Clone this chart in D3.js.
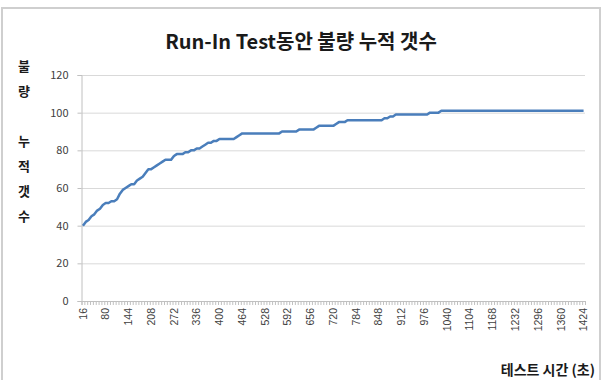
<!DOCTYPE html>
<html><head><meta charset="utf-8">
<script src="https://cdn.jsdelivr.net/npm/d3@7"></script>
<style>
html,body{margin:0;padding:0;background:#fff;}
svg{display:block;font-family:"Malgun Gothic","Noto Sans CJK KR",sans-serif;}
</style></head>
<body>
<svg id="c" width="607" height="380"></svg>
<script>
// ---- data ----
const startTime = 16, stepTime = 8;
const values = [
 40,42,43,45,46,48,49,51,52,52, 53,53,54,57,59,60,61,62,62,64,
 65,66,68,70,70,71,72,73,74,75, 75,75,77,78,78,78,79,79,80,80,
 81,81,82,83,84,84,85,85,86,86, 86,86,86,86,87,88,89,89,89,89,
 89,89,89,89,89,89,89,89,89,89, 90,90,90,90,90,90,91,91,91,91,
 91,91,92,93,93,93,93,93,93,94, 95,95,95,96,96,96,96,96,96,96,
 96,96,96,96,96,96,97,97,98,98, 99,99,99,99,99,99,99,99,99,99,
 99,99,100,100,100,100,101,101,101,101, 101,101,101,101,101,101,101,101,101,101,
 101,101,101,101,101,101,101,101,101,101, 101,101,101,101,101,101,101,101,101,101,
 101,101,101,101,101,101,101,101,101,101, 101,101,101,101,101,101,101
];
const categories = values.map((_, i) => startTime + i * stepTime);
const yTicks = [0, 20, 40, 60, 80, 100, 120];
const labelEvery = 8;
const title = "Run-In Test동안 불량 누적 갯수";
const yTitleChars = ["불", "량", "", "누", "적", "갯", "수"];
const xTitle = "테스트 시간 (초)";

// ---- layout ----
const svg = d3.select("#c");
const L = 81.5, R = 585, T = 75, B = 301;

svg.append("rect").attr("x", 2).attr("y", 8).attr("width", 598).attr("height", 390)
  .attr("fill", "#fff").attr("stroke", "#cfcfcf").attr("stroke-width", 2);

const x = d3.scaleBand().domain(categories).range([L, R]).paddingInner(0).paddingOuter(0);
const xi = d3.scaleLinear().domain([0, categories.length]).range([L, R]);
const y = d3.scaleLinear().domain([0, 120]).range([B, T]);

// gridlines
const grid = svg.append("g").attr("transform", `translate(${L},0)`)
  .call(d3.axisLeft(y).tickValues(yTicks).tickSize(-(R - L)).tickFormat(""));
grid.select(".domain").remove();
grid.selectAll("line").attr("stroke", "#d9d9d9").attr("stroke-width", 1);

// y axis
const ya = svg.append("g").attr("transform", `translate(${L},0)`)
  .call(d3.axisLeft(y).tickValues(yTicks).tickSize(4).tickPadding(9));
ya.select(".domain").attr("stroke", "#c0c0c0");
ya.selectAll("line").attr("stroke", "#c0c0c0");
ya.selectAll("text").attr("font-size", "11px").attr("fill", "#404040")
  .attr("font-family", "Malgun Gothic, Noto Sans CJK KR, sans-serif");

// x tick marks (between categories)
const xt = svg.append("g").attr("transform", `translate(0,${B})`)
  .call(d3.axisBottom(xi).tickValues(d3.range(0, categories.length + 1)).tickSize(4).tickFormat(""));
xt.select(".domain").attr("stroke", "#c0c0c0");
xt.selectAll("line").attr("stroke", "#c0c0c0");

// x labels
const xl = svg.append("g").attr("transform", `translate(0,${B})`)
  .call(d3.axisBottom(x).tickValues(categories.filter((d, i) => i % labelEvery === 0)).tickSize(0));
xl.select(".domain").remove();
xl.selectAll("text")
  .attr("font-size", "10.5px").attr("fill", "#404040")
  .attr("transform", "rotate(-90)")
  .attr("text-anchor", "end")
  .attr("x", -7).attr("y", 0).attr("dy", "0.35em");

// line
svg.append("path").datum(values)
  .attr("fill", "none").attr("stroke", "#4a7ebb").attr("stroke-width", 2.5)
  .attr("stroke-linejoin", "round")
  .attr("d", d3.line().x((d, i) => x(categories[i]) + x.bandwidth() / 2).y(d => y(d)));

// title
svg.append("text").attr("x", 301).attr("y", 49).attr("text-anchor", "middle")
  .attr("font-size", "20px").attr("font-weight", "bold").attr("fill", "#1a1a1a").text(title);

// y title (stacked)
svg.append("g").selectAll("text").data(yTitleChars).join("text")
  .attr("x", 24).attr("y", (d, i) => 66 + i * 25).attr("dy", "0.35em")
  .attr("text-anchor", "middle").attr("font-size", "13px").attr("font-weight", "bold")
  .attr("fill", "#1a1a1a").text(d => d);

// x title
svg.append("text").attr("x", 595).attr("y", 375).attr("text-anchor", "end")
  .attr("font-size", "14px").attr("font-weight", "bold").attr("fill", "#1a1a1a").text(xTitle);
</script>
</body></html>
